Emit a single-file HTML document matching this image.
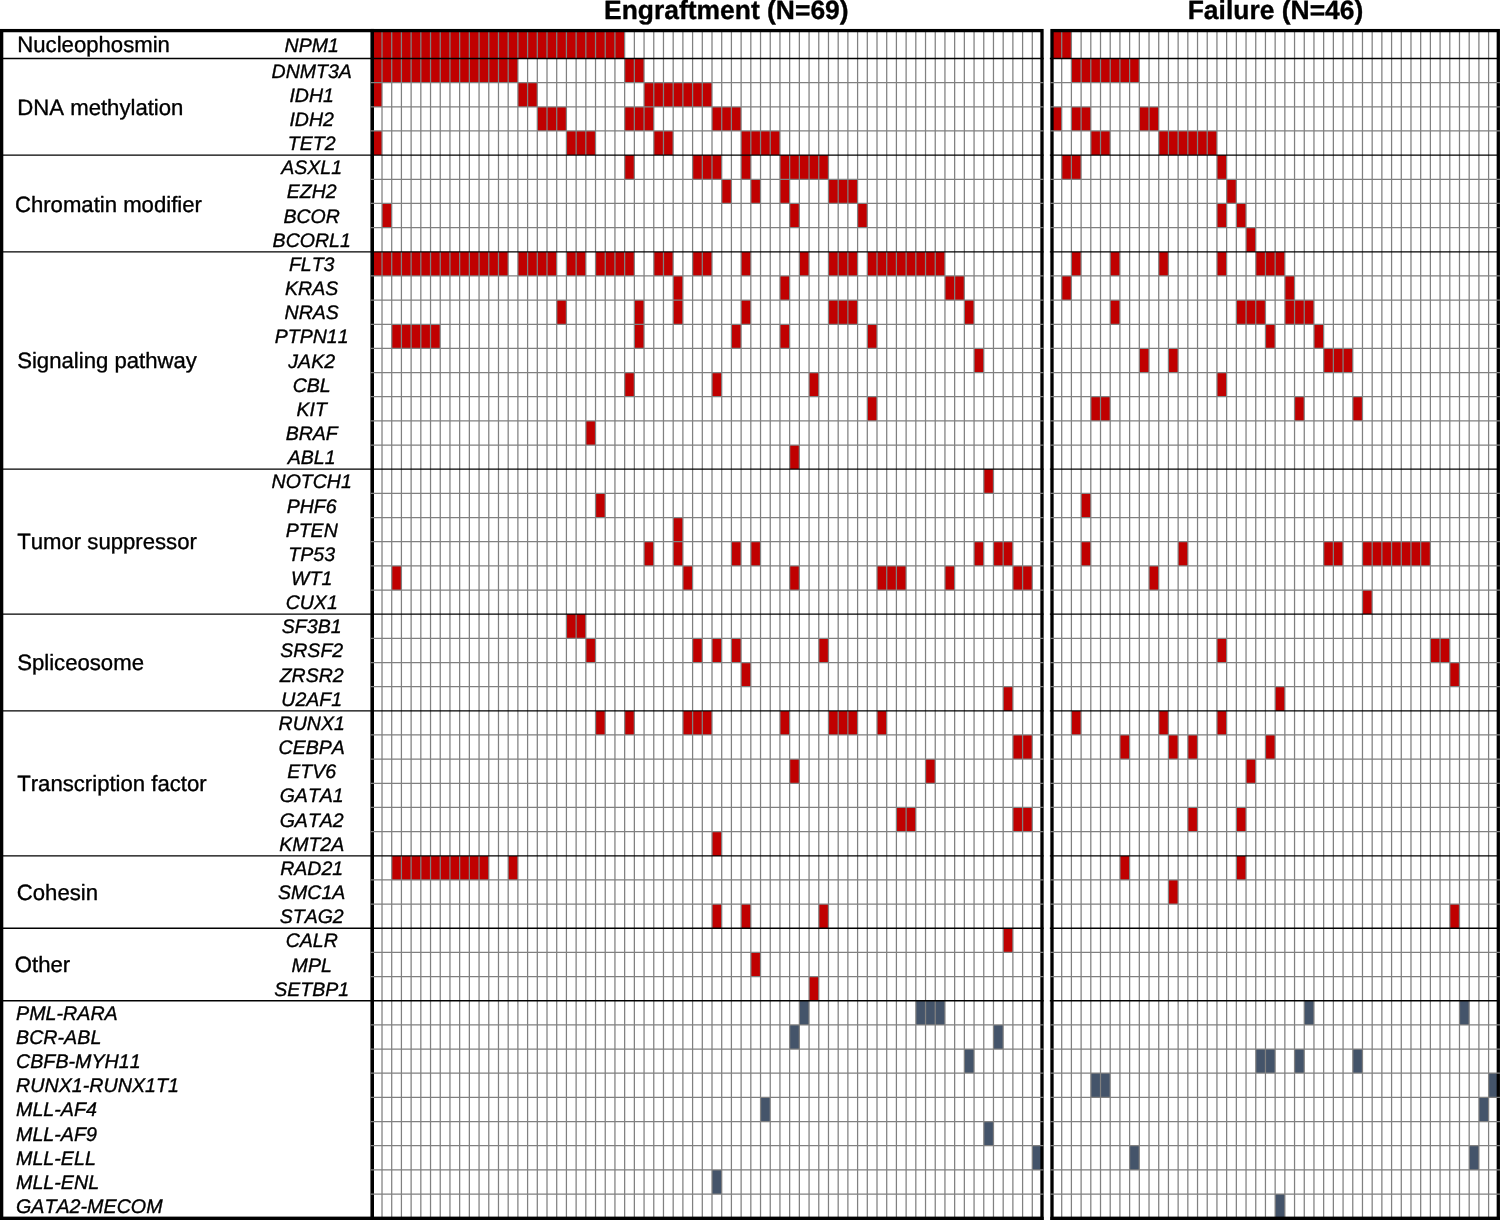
<!DOCTYPE html>
<html lang="en"><head><meta charset="utf-8"><title>Oncoprint</title>
<style>html,body{margin:0;padding:0;background:#fff}svg{display:block}text{font-family:"Liberation Sans",sans-serif;fill:#000;font-kerning:none;text-rendering:geometricPrecision;stroke:#000;stroke-width:0.35px;stroke-linejoin:round}.h{font-weight:bold;font-size:26.45px}.c{font-size:22.15px}.g{font-size:19.55px;font-style:italic}.f{font-size:19.7px}</style></head><body>
<svg width="1500" height="1220" viewBox="0 0 1500 1220">
<rect width="1500" height="1220" fill="#fff"/>
<text class="h" x="726.3" y="19.0" text-anchor="middle">Engraftment (N=69)</text>
<text class="h" x="1275.5" y="19.0" text-anchor="middle">Failure (N=46)</text>
<g shape-rendering="crispEdges">
<rect x="372.30" y="30.60" width="252.35" height="27.90" fill="#c00000"/>
<rect x="372.30" y="58.50" width="145.59" height="24.16" fill="#c00000"/>
<rect x="624.65" y="58.50" width="19.41" height="24.16" fill="#c00000"/>
<rect x="372.30" y="82.66" width="9.71" height="24.16" fill="#c00000"/>
<rect x="517.89" y="82.66" width="19.41" height="24.16" fill="#c00000"/>
<rect x="644.06" y="82.66" width="67.94" height="24.16" fill="#c00000"/>
<rect x="537.30" y="106.82" width="29.12" height="24.16" fill="#c00000"/>
<rect x="624.65" y="106.82" width="29.12" height="24.16" fill="#c00000"/>
<rect x="712.00" y="106.82" width="29.12" height="24.16" fill="#c00000"/>
<rect x="372.30" y="130.98" width="9.71" height="24.16" fill="#c00000"/>
<rect x="566.42" y="130.98" width="29.12" height="24.16" fill="#c00000"/>
<rect x="653.77" y="130.98" width="19.41" height="24.16" fill="#c00000"/>
<rect x="741.12" y="130.98" width="38.82" height="24.16" fill="#c00000"/>
<rect x="624.65" y="155.14" width="9.71" height="24.16" fill="#c00000"/>
<rect x="692.59" y="155.14" width="29.12" height="24.16" fill="#c00000"/>
<rect x="741.12" y="155.14" width="9.71" height="24.16" fill="#c00000"/>
<rect x="779.94" y="155.14" width="48.53" height="24.16" fill="#c00000"/>
<rect x="721.71" y="179.30" width="9.71" height="24.16" fill="#c00000"/>
<rect x="750.83" y="179.30" width="9.71" height="24.16" fill="#c00000"/>
<rect x="779.94" y="179.30" width="9.71" height="24.16" fill="#c00000"/>
<rect x="828.47" y="179.30" width="29.12" height="24.16" fill="#c00000"/>
<rect x="382.01" y="203.46" width="9.71" height="24.16" fill="#c00000"/>
<rect x="789.65" y="203.46" width="9.71" height="24.16" fill="#c00000"/>
<rect x="857.59" y="203.46" width="9.71" height="24.16" fill="#c00000"/>
<rect x="372.30" y="251.78" width="135.88" height="24.16" fill="#c00000"/>
<rect x="517.89" y="251.78" width="38.82" height="24.16" fill="#c00000"/>
<rect x="566.42" y="251.78" width="19.41" height="24.16" fill="#c00000"/>
<rect x="595.53" y="251.78" width="38.82" height="24.16" fill="#c00000"/>
<rect x="653.77" y="251.78" width="19.41" height="24.16" fill="#c00000"/>
<rect x="692.59" y="251.78" width="19.41" height="24.16" fill="#c00000"/>
<rect x="741.12" y="251.78" width="9.71" height="24.16" fill="#c00000"/>
<rect x="799.36" y="251.78" width="9.71" height="24.16" fill="#c00000"/>
<rect x="828.47" y="251.78" width="29.12" height="24.16" fill="#c00000"/>
<rect x="867.30" y="251.78" width="77.65" height="24.16" fill="#c00000"/>
<rect x="673.18" y="275.94" width="9.71" height="24.16" fill="#c00000"/>
<rect x="779.94" y="275.94" width="9.71" height="24.16" fill="#c00000"/>
<rect x="944.94" y="275.94" width="19.41" height="24.16" fill="#c00000"/>
<rect x="556.71" y="300.10" width="9.71" height="24.16" fill="#c00000"/>
<rect x="634.36" y="300.10" width="9.71" height="24.16" fill="#c00000"/>
<rect x="673.18" y="300.10" width="9.71" height="24.16" fill="#c00000"/>
<rect x="741.12" y="300.10" width="9.71" height="24.16" fill="#c00000"/>
<rect x="828.47" y="300.10" width="29.12" height="24.16" fill="#c00000"/>
<rect x="964.35" y="300.10" width="9.71" height="24.16" fill="#c00000"/>
<rect x="391.71" y="324.26" width="48.53" height="24.16" fill="#c00000"/>
<rect x="634.36" y="324.26" width="9.71" height="24.16" fill="#c00000"/>
<rect x="731.41" y="324.26" width="9.71" height="24.16" fill="#c00000"/>
<rect x="779.94" y="324.26" width="9.71" height="24.16" fill="#c00000"/>
<rect x="867.30" y="324.26" width="9.71" height="24.16" fill="#c00000"/>
<rect x="974.06" y="348.42" width="9.71" height="24.16" fill="#c00000"/>
<rect x="624.65" y="372.58" width="9.71" height="24.16" fill="#c00000"/>
<rect x="712.00" y="372.58" width="9.71" height="24.16" fill="#c00000"/>
<rect x="809.06" y="372.58" width="9.71" height="24.16" fill="#c00000"/>
<rect x="867.30" y="396.74" width="9.71" height="24.16" fill="#c00000"/>
<rect x="585.83" y="420.90" width="9.71" height="24.16" fill="#c00000"/>
<rect x="789.65" y="445.06" width="9.71" height="24.16" fill="#c00000"/>
<rect x="983.77" y="469.22" width="9.71" height="24.16" fill="#c00000"/>
<rect x="595.53" y="493.38" width="9.71" height="24.16" fill="#c00000"/>
<rect x="673.18" y="517.54" width="9.71" height="24.16" fill="#c00000"/>
<rect x="644.06" y="541.70" width="9.71" height="24.16" fill="#c00000"/>
<rect x="673.18" y="541.70" width="9.71" height="24.16" fill="#c00000"/>
<rect x="731.41" y="541.70" width="9.71" height="24.16" fill="#c00000"/>
<rect x="750.83" y="541.70" width="9.71" height="24.16" fill="#c00000"/>
<rect x="974.06" y="541.70" width="9.71" height="24.16" fill="#c00000"/>
<rect x="993.47" y="541.70" width="19.41" height="24.16" fill="#c00000"/>
<rect x="391.71" y="565.86" width="9.71" height="24.16" fill="#c00000"/>
<rect x="682.89" y="565.86" width="9.71" height="24.16" fill="#c00000"/>
<rect x="789.65" y="565.86" width="9.71" height="24.16" fill="#c00000"/>
<rect x="877.00" y="565.86" width="29.12" height="24.16" fill="#c00000"/>
<rect x="944.94" y="565.86" width="9.71" height="24.16" fill="#c00000"/>
<rect x="1012.88" y="565.86" width="19.41" height="24.16" fill="#c00000"/>
<rect x="566.42" y="614.18" width="19.41" height="24.16" fill="#c00000"/>
<rect x="585.83" y="638.34" width="9.71" height="24.16" fill="#c00000"/>
<rect x="692.59" y="638.34" width="9.71" height="24.16" fill="#c00000"/>
<rect x="712.00" y="638.34" width="9.71" height="24.16" fill="#c00000"/>
<rect x="731.41" y="638.34" width="9.71" height="24.16" fill="#c00000"/>
<rect x="818.77" y="638.34" width="9.71" height="24.16" fill="#c00000"/>
<rect x="741.12" y="662.50" width="9.71" height="24.16" fill="#c00000"/>
<rect x="1003.18" y="686.66" width="9.71" height="24.16" fill="#c00000"/>
<rect x="595.53" y="710.82" width="9.71" height="24.16" fill="#c00000"/>
<rect x="624.65" y="710.82" width="9.71" height="24.16" fill="#c00000"/>
<rect x="682.89" y="710.82" width="29.12" height="24.16" fill="#c00000"/>
<rect x="779.94" y="710.82" width="9.71" height="24.16" fill="#c00000"/>
<rect x="828.47" y="710.82" width="29.12" height="24.16" fill="#c00000"/>
<rect x="877.00" y="710.82" width="9.71" height="24.16" fill="#c00000"/>
<rect x="1012.88" y="734.98" width="19.41" height="24.16" fill="#c00000"/>
<rect x="789.65" y="759.14" width="9.71" height="24.16" fill="#c00000"/>
<rect x="925.53" y="759.14" width="9.71" height="24.16" fill="#c00000"/>
<rect x="896.41" y="807.46" width="19.41" height="24.16" fill="#c00000"/>
<rect x="1012.88" y="807.46" width="19.41" height="24.16" fill="#c00000"/>
<rect x="712.00" y="831.62" width="9.71" height="24.16" fill="#c00000"/>
<rect x="391.71" y="855.78" width="97.06" height="24.16" fill="#c00000"/>
<rect x="508.18" y="855.78" width="9.71" height="24.16" fill="#c00000"/>
<rect x="712.00" y="904.10" width="9.71" height="24.16" fill="#c00000"/>
<rect x="741.12" y="904.10" width="9.71" height="24.16" fill="#c00000"/>
<rect x="818.77" y="904.10" width="9.71" height="24.16" fill="#c00000"/>
<rect x="1003.18" y="928.26" width="9.71" height="24.16" fill="#c00000"/>
<rect x="750.83" y="952.42" width="9.71" height="24.16" fill="#c00000"/>
<rect x="809.06" y="976.58" width="9.71" height="24.16" fill="#c00000"/>
<rect x="799.36" y="1000.74" width="9.71" height="24.16" fill="#44546a"/>
<rect x="915.82" y="1000.74" width="29.12" height="24.16" fill="#44546a"/>
<rect x="789.65" y="1024.90" width="9.71" height="24.16" fill="#44546a"/>
<rect x="993.47" y="1024.90" width="9.71" height="24.16" fill="#44546a"/>
<rect x="964.35" y="1049.06" width="9.71" height="24.16" fill="#44546a"/>
<rect x="760.53" y="1097.38" width="9.71" height="24.16" fill="#44546a"/>
<rect x="983.77" y="1121.54" width="9.71" height="24.16" fill="#44546a"/>
<rect x="1032.29" y="1145.70" width="9.71" height="24.16" fill="#44546a"/>
<rect x="712.00" y="1169.86" width="9.71" height="24.16" fill="#44546a"/>
<rect x="1052.00" y="30.60" width="19.40" height="27.90" fill="#c00000"/>
<rect x="1071.40" y="58.50" width="67.92" height="24.16" fill="#c00000"/>
<rect x="1052.00" y="106.82" width="9.70" height="24.16" fill="#c00000"/>
<rect x="1071.40" y="106.82" width="19.40" height="24.16" fill="#c00000"/>
<rect x="1139.32" y="106.82" width="19.40" height="24.16" fill="#c00000"/>
<rect x="1090.81" y="130.98" width="19.40" height="24.16" fill="#c00000"/>
<rect x="1158.72" y="130.98" width="58.21" height="24.16" fill="#c00000"/>
<rect x="1061.70" y="155.14" width="19.40" height="24.16" fill="#c00000"/>
<rect x="1216.94" y="155.14" width="9.70" height="24.16" fill="#c00000"/>
<rect x="1226.64" y="179.30" width="9.70" height="24.16" fill="#c00000"/>
<rect x="1216.94" y="203.46" width="9.70" height="24.16" fill="#c00000"/>
<rect x="1236.34" y="203.46" width="9.70" height="24.16" fill="#c00000"/>
<rect x="1246.04" y="227.62" width="9.70" height="24.16" fill="#c00000"/>
<rect x="1071.40" y="251.78" width="9.70" height="24.16" fill="#c00000"/>
<rect x="1110.21" y="251.78" width="9.70" height="24.16" fill="#c00000"/>
<rect x="1158.72" y="251.78" width="9.70" height="24.16" fill="#c00000"/>
<rect x="1216.94" y="251.78" width="9.70" height="24.16" fill="#c00000"/>
<rect x="1255.75" y="251.78" width="29.11" height="24.16" fill="#c00000"/>
<rect x="1061.70" y="275.94" width="9.70" height="24.16" fill="#c00000"/>
<rect x="1284.85" y="275.94" width="9.70" height="24.16" fill="#c00000"/>
<rect x="1110.21" y="300.10" width="9.70" height="24.16" fill="#c00000"/>
<rect x="1236.34" y="300.10" width="29.11" height="24.16" fill="#c00000"/>
<rect x="1284.85" y="300.10" width="29.11" height="24.16" fill="#c00000"/>
<rect x="1265.45" y="324.26" width="9.70" height="24.16" fill="#c00000"/>
<rect x="1313.96" y="324.26" width="9.70" height="24.16" fill="#c00000"/>
<rect x="1139.32" y="348.42" width="9.70" height="24.16" fill="#c00000"/>
<rect x="1168.43" y="348.42" width="9.70" height="24.16" fill="#c00000"/>
<rect x="1323.66" y="348.42" width="29.11" height="24.16" fill="#c00000"/>
<rect x="1216.94" y="372.58" width="9.70" height="24.16" fill="#c00000"/>
<rect x="1090.81" y="396.74" width="19.40" height="24.16" fill="#c00000"/>
<rect x="1294.55" y="396.74" width="9.70" height="24.16" fill="#c00000"/>
<rect x="1352.77" y="396.74" width="9.70" height="24.16" fill="#c00000"/>
<rect x="1081.11" y="493.38" width="9.70" height="24.16" fill="#c00000"/>
<rect x="1081.11" y="541.70" width="9.70" height="24.16" fill="#c00000"/>
<rect x="1178.13" y="541.70" width="9.70" height="24.16" fill="#c00000"/>
<rect x="1323.66" y="541.70" width="19.40" height="24.16" fill="#c00000"/>
<rect x="1362.47" y="541.70" width="67.92" height="24.16" fill="#c00000"/>
<rect x="1149.02" y="565.86" width="9.70" height="24.16" fill="#c00000"/>
<rect x="1362.47" y="590.02" width="9.70" height="24.16" fill="#c00000"/>
<rect x="1216.94" y="638.34" width="9.70" height="24.16" fill="#c00000"/>
<rect x="1430.38" y="638.34" width="19.40" height="24.16" fill="#c00000"/>
<rect x="1449.79" y="662.50" width="9.70" height="24.16" fill="#c00000"/>
<rect x="1275.15" y="686.66" width="9.70" height="24.16" fill="#c00000"/>
<rect x="1071.40" y="710.82" width="9.70" height="24.16" fill="#c00000"/>
<rect x="1158.72" y="710.82" width="9.70" height="24.16" fill="#c00000"/>
<rect x="1216.94" y="710.82" width="9.70" height="24.16" fill="#c00000"/>
<rect x="1119.92" y="734.98" width="9.70" height="24.16" fill="#c00000"/>
<rect x="1168.43" y="734.98" width="9.70" height="24.16" fill="#c00000"/>
<rect x="1187.83" y="734.98" width="9.70" height="24.16" fill="#c00000"/>
<rect x="1265.45" y="734.98" width="9.70" height="24.16" fill="#c00000"/>
<rect x="1246.04" y="759.14" width="9.70" height="24.16" fill="#c00000"/>
<rect x="1187.83" y="807.46" width="9.70" height="24.16" fill="#c00000"/>
<rect x="1236.34" y="807.46" width="9.70" height="24.16" fill="#c00000"/>
<rect x="1119.92" y="855.78" width="9.70" height="24.16" fill="#c00000"/>
<rect x="1236.34" y="855.78" width="9.70" height="24.16" fill="#c00000"/>
<rect x="1168.43" y="879.94" width="9.70" height="24.16" fill="#c00000"/>
<rect x="1449.79" y="904.10" width="9.70" height="24.16" fill="#c00000"/>
<rect x="1304.26" y="1000.74" width="9.70" height="24.16" fill="#44546a"/>
<rect x="1459.49" y="1000.74" width="9.70" height="24.16" fill="#44546a"/>
<rect x="1255.75" y="1049.06" width="19.40" height="24.16" fill="#44546a"/>
<rect x="1294.55" y="1049.06" width="9.70" height="24.16" fill="#44546a"/>
<rect x="1352.77" y="1049.06" width="9.70" height="24.16" fill="#44546a"/>
<rect x="1090.81" y="1073.22" width="19.40" height="24.16" fill="#44546a"/>
<rect x="1488.60" y="1073.22" width="9.70" height="24.16" fill="#44546a"/>
<rect x="1478.90" y="1097.38" width="9.70" height="24.16" fill="#44546a"/>
<rect x="1129.62" y="1145.70" width="9.70" height="24.16" fill="#44546a"/>
<rect x="1469.19" y="1145.70" width="9.70" height="24.16" fill="#44546a"/>
<rect x="1275.15" y="1194.02" width="9.70" height="24.16" fill="#44546a"/>
</g>
<path d="M382.01 30.60V1218.18M391.71 30.60V1218.18M401.42 30.60V1218.18M411.12 30.60V1218.18M420.83 30.60V1218.18M430.53 30.60V1218.18M440.24 30.60V1218.18M449.95 30.60V1218.18M459.65 30.60V1218.18M469.36 30.60V1218.18M479.06 30.60V1218.18M488.77 30.60V1218.18M498.48 30.60V1218.18M508.18 30.60V1218.18M517.89 30.60V1218.18M527.59 30.60V1218.18M537.30 30.60V1218.18M547.00 30.60V1218.18M556.71 30.60V1218.18M566.42 30.60V1218.18M576.12 30.60V1218.18M585.83 30.60V1218.18M595.53 30.60V1218.18M605.24 30.60V1218.18M614.94 30.60V1218.18M624.65 30.60V1218.18M634.36 30.60V1218.18M644.06 30.60V1218.18M653.77 30.60V1218.18M663.47 30.60V1218.18M673.18 30.60V1218.18M682.89 30.60V1218.18M692.59 30.60V1218.18M702.30 30.60V1218.18M712.00 30.60V1218.18M721.71 30.60V1218.18M731.41 30.60V1218.18M741.12 30.60V1218.18M750.83 30.60V1218.18M760.53 30.60V1218.18M770.24 30.60V1218.18M779.94 30.60V1218.18M789.65 30.60V1218.18M799.36 30.60V1218.18M809.06 30.60V1218.18M818.77 30.60V1218.18M828.47 30.60V1218.18M838.18 30.60V1218.18M847.88 30.60V1218.18M857.59 30.60V1218.18M867.30 30.60V1218.18M877.00 30.60V1218.18M886.71 30.60V1218.18M896.41 30.60V1218.18M906.12 30.60V1218.18M915.82 30.60V1218.18M925.53 30.60V1218.18M935.24 30.60V1218.18M944.94 30.60V1218.18M954.65 30.60V1218.18M964.35 30.60V1218.18M974.06 30.60V1218.18M983.77 30.60V1218.18M993.47 30.60V1218.18M1003.18 30.60V1218.18M1012.88 30.60V1218.18M1022.59 30.60V1218.18M1032.29 30.60V1218.18M1061.70 30.60V1218.18M1071.40 30.60V1218.18M1081.11 30.60V1218.18M1090.81 30.60V1218.18M1100.51 30.60V1218.18M1110.21 30.60V1218.18M1119.92 30.60V1218.18M1129.62 30.60V1218.18M1139.32 30.60V1218.18M1149.02 30.60V1218.18M1158.72 30.60V1218.18M1168.43 30.60V1218.18M1178.13 30.60V1218.18M1187.83 30.60V1218.18M1197.53 30.60V1218.18M1207.23 30.60V1218.18M1216.94 30.60V1218.18M1226.64 30.60V1218.18M1236.34 30.60V1218.18M1246.04 30.60V1218.18M1255.75 30.60V1218.18M1265.45 30.60V1218.18M1275.15 30.60V1218.18M1284.85 30.60V1218.18M1294.55 30.60V1218.18M1304.26 30.60V1218.18M1313.96 30.60V1218.18M1323.66 30.60V1218.18M1333.36 30.60V1218.18M1343.07 30.60V1218.18M1352.77 30.60V1218.18M1362.47 30.60V1218.18M1372.17 30.60V1218.18M1381.87 30.60V1218.18M1391.58 30.60V1218.18M1401.28 30.60V1218.18M1410.98 30.60V1218.18M1420.68 30.60V1218.18M1430.38 30.60V1218.18M1440.09 30.60V1218.18M1449.79 30.60V1218.18M1459.49 30.60V1218.18M1469.19 30.60V1218.18M1478.90 30.60V1218.18M1488.60 30.60V1218.18" stroke="#808080" stroke-width="1.25" fill="none"/>
<g fill="none" stroke="#000" stroke-width="3.3">
<rect x="1.65" y="30.60" width="370.65" height="1187.83"/>
<rect x="372.30" y="30.60" width="669.70" height="1187.83"/>
<rect x="1052.00" y="30.60" width="446.30" height="1187.83"/>
</g>
<rect x="0" y="1216.78" width="1043.65" height="6" fill="#000"/>
<rect x="1050.35" y="1216.78" width="449.65" height="6" fill="#000"/>
<path d="M370.65 82.66H1043.65M1050.35 82.66H1499.95M370.65 106.82H1043.65M1050.35 106.82H1499.95M370.65 130.98H1043.65M1050.35 130.98H1499.95M370.65 179.30H1043.65M1050.35 179.30H1499.95M370.65 203.46H1043.65M1050.35 203.46H1499.95M370.65 227.62H1043.65M1050.35 227.62H1499.95M370.65 275.94H1043.65M1050.35 275.94H1499.95M370.65 300.10H1043.65M1050.35 300.10H1499.95M370.65 324.26H1043.65M1050.35 324.26H1499.95M370.65 348.42H1043.65M1050.35 348.42H1499.95M370.65 372.58H1043.65M1050.35 372.58H1499.95M370.65 396.74H1043.65M1050.35 396.74H1499.95M370.65 420.90H1043.65M1050.35 420.90H1499.95M370.65 445.06H1043.65M1050.35 445.06H1499.95M370.65 493.38H1043.65M1050.35 493.38H1499.95M370.65 517.54H1043.65M1050.35 517.54H1499.95M370.65 541.70H1043.65M1050.35 541.70H1499.95M370.65 565.86H1043.65M1050.35 565.86H1499.95M370.65 590.02H1043.65M1050.35 590.02H1499.95M370.65 638.34H1043.65M1050.35 638.34H1499.95M370.65 662.50H1043.65M1050.35 662.50H1499.95M370.65 686.66H1043.65M1050.35 686.66H1499.95M370.65 734.98H1043.65M1050.35 734.98H1499.95M370.65 759.14H1043.65M1050.35 759.14H1499.95M370.65 783.30H1043.65M1050.35 783.30H1499.95M370.65 807.46H1043.65M1050.35 807.46H1499.95M370.65 831.62H1043.65M1050.35 831.62H1499.95M370.65 879.94H1043.65M1050.35 879.94H1499.95M370.65 904.10H1043.65M1050.35 904.10H1499.95M370.65 952.42H1043.65M1050.35 952.42H1499.95M370.65 976.58H1043.65M1050.35 976.58H1499.95M370.65 1024.90H1043.65M1050.35 1024.90H1499.95M370.65 1049.06H1043.65M1050.35 1049.06H1499.95M370.65 1073.22H1043.65M1050.35 1073.22H1499.95M370.65 1097.38H1043.65M1050.35 1097.38H1499.95M370.65 1121.54H1043.65M1050.35 1121.54H1499.95M370.65 1145.70H1043.65M1050.35 1145.70H1499.95M370.65 1169.86H1043.65M1050.35 1169.86H1499.95M370.65 1194.02H1043.65M1050.35 1194.02H1499.95" stroke="#808080" stroke-width="1.25" fill="none"/>
<path d="M1.65 58.50H1043.65M1049.85 58.50H1498.30M1.65 155.14H1043.65M1049.85 155.14H1498.30M1.65 251.78H1043.65M1049.85 251.78H1498.30M1.65 469.22H1043.65M1049.85 469.22H1498.30M1.65 614.18H1043.65M1049.85 614.18H1498.30M1.65 710.82H1043.65M1049.85 710.82H1498.30M1.65 855.78H1043.65M1049.85 855.78H1498.30M1.65 928.26H1043.65M1049.85 928.26H1498.30M1.65 1000.74H1043.65M1049.85 1000.74H1498.30" stroke="#000" stroke-width="1.3" fill="none"/>
<text class="c" x="17.3" y="51.77">Nucleophosmin</text>
<text class="c" x="17.3" y="115.02">DNA methylation</text>
<text class="c" x="14.9" y="211.71">Chromatin modifier</text>
<text class="c" x="17.2" y="368.10">Signaling pathway</text>
<text class="c" x="17.2" y="549.35">Tumor suppressor</text>
<text class="c" x="17.2" y="670.10">Spliceosome</text>
<text class="c" x="17.2" y="790.70">Transcription factor</text>
<text class="c" x="16.8" y="899.77">Cohesin</text>
<text class="c" x="14.8" y="971.90">Other</text>
<text class="g" x="311.7" y="52.08" text-anchor="middle">NPM1</text>
<text class="g" x="311.7" y="77.63" text-anchor="middle">DNMT3A</text>
<text class="g" x="311.7" y="101.79" text-anchor="middle">IDH1</text>
<text class="g" x="311.7" y="125.95" text-anchor="middle">IDH2</text>
<text class="g" x="311.7" y="150.11" text-anchor="middle">TET2</text>
<text class="g" x="311.7" y="174.27" text-anchor="middle">ASXL1</text>
<text class="g" x="311.7" y="198.43" text-anchor="middle">EZH2</text>
<text class="g" x="311.7" y="222.59" text-anchor="middle">BCOR</text>
<text class="g" x="311.7" y="246.75" text-anchor="middle">BCORL1</text>
<text class="g" x="311.7" y="270.91" text-anchor="middle">FLT3</text>
<text class="g" x="311.7" y="295.07" text-anchor="middle">KRAS</text>
<text class="g" x="311.7" y="319.23" text-anchor="middle">NRAS</text>
<text class="g" x="311.7" y="343.39" text-anchor="middle">PTPN11</text>
<text class="g" x="311.7" y="367.55" text-anchor="middle">JAK2</text>
<text class="g" x="311.7" y="391.71" text-anchor="middle">CBL</text>
<text class="g" x="311.7" y="415.87" text-anchor="middle">KIT</text>
<text class="g" x="311.7" y="440.03" text-anchor="middle">BRAF</text>
<text class="g" x="311.7" y="464.19" text-anchor="middle">ABL1</text>
<text class="g" x="311.7" y="488.35" text-anchor="middle">NOTCH1</text>
<text class="g" x="311.7" y="512.51" text-anchor="middle">PHF6</text>
<text class="g" x="311.7" y="536.67" text-anchor="middle">PTEN</text>
<text class="g" x="311.7" y="560.83" text-anchor="middle">TP53</text>
<text class="g" x="311.7" y="584.99" text-anchor="middle">WT1</text>
<text class="g" x="311.7" y="609.15" text-anchor="middle">CUX1</text>
<text class="g" x="311.7" y="633.31" text-anchor="middle">SF3B1</text>
<text class="g" x="311.7" y="657.47" text-anchor="middle">SRSF2</text>
<text class="g" x="311.7" y="681.63" text-anchor="middle">ZRSR2</text>
<text class="g" x="311.7" y="705.79" text-anchor="middle">U2AF1</text>
<text class="g" x="311.7" y="729.95" text-anchor="middle">RUNX1</text>
<text class="g" x="311.7" y="754.11" text-anchor="middle">CEBPA</text>
<text class="g" x="311.7" y="778.27" text-anchor="middle">ETV6</text>
<text class="g" x="311.7" y="802.43" text-anchor="middle">GATA1</text>
<text class="g" x="311.7" y="826.59" text-anchor="middle">GATA2</text>
<text class="g" x="311.7" y="850.75" text-anchor="middle">KMT2A</text>
<text class="g" x="311.7" y="874.91" text-anchor="middle">RAD21</text>
<text class="g" x="311.7" y="899.07" text-anchor="middle">SMC1A</text>
<text class="g" x="311.7" y="923.23" text-anchor="middle">STAG2</text>
<text class="g" x="311.7" y="947.39" text-anchor="middle">CALR</text>
<text class="g" x="311.7" y="971.55" text-anchor="middle">MPL</text>
<text class="g" x="311.7" y="995.71" text-anchor="middle">SETBP1</text>
<text class="g f" x="16.0" y="1019.82">PML-RARA</text>
<text class="g f" x="16.0" y="1043.98">BCR-ABL</text>
<text class="g f" x="16.0" y="1068.14">CBFB-MYH11</text>
<text class="g f" x="16.0" y="1092.30">RUNX1-RUNX1T1</text>
<text class="g f" x="16.0" y="1116.46">MLL-AF4</text>
<text class="g f" x="16.0" y="1140.62">MLL-AF9</text>
<text class="g f" x="16.0" y="1164.78">MLL-ELL</text>
<text class="g f" x="16.0" y="1188.94">MLL-ENL</text>
<text class="g f" x="16.0" y="1213.10">GATA2-MECOM</text>
</svg></body></html>
